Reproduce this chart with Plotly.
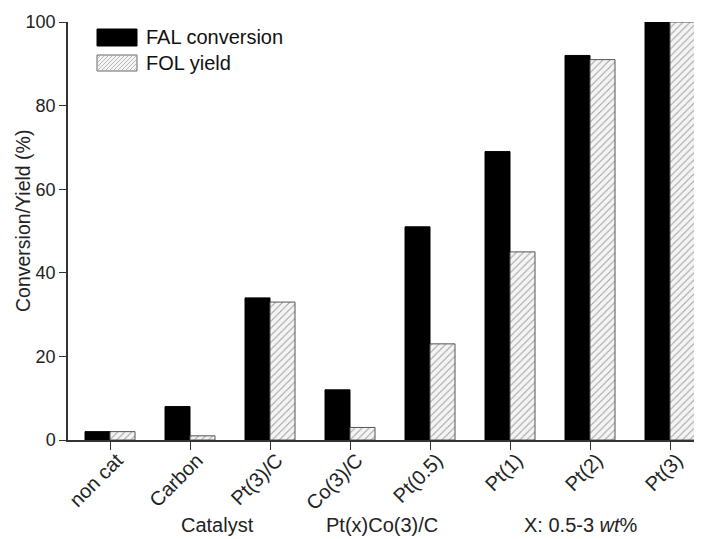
import plotly.graph_objects as go

categories = ["non cat", "Carbon", "Pt(3)/C", "Co(3)/C", "Pt(0.5)", "Pt(1)", "Pt(2)", "Pt(3)"]
fal_conversion = [2, 8, 34, 12, 51, 69, 92, 100]
fol_yield = [2, 1, 33, 3, 23, 45, 91, 100]
y_ticks = [0, 20, 40, 60, 80, 100]
series_names = ["FAL conversion", "FOL yield"]
bottom_labels = ["Catalyst", "Pt(x)Co(3)/C", "X: 0.5-3 <i>wt</i>%"]

FONT = "Liberation Sans, Arial, sans-serif"
TXT = "#222222"

# figure geometry (pixels); page body has an 8px offset
W, H = 702, 539
ML, MT, MB = 60, 14, 107
PW = 634
MR = W - ML - PW
PH = H - MT - MB


def px_x(x):
    return (x - ML) / PW


def px_y(y):
    return (H - MB - y) / PH


fig = go.Figure()
fig.add_trace(go.Bar(
    x=categories, y=fal_conversion, name=series_names[0],
    marker=dict(color="black", line=dict(color="black", width=1)),
))
fig.add_trace(go.Bar(
    x=categories, y=fol_yield, name=series_names[1],
    marker=dict(color="white", line=dict(color="#555555", width=1),
                pattern=dict(shape="/", fgcolor="#a0a0a0", bgcolor="#f4f4f4", size=5, solidity=0.2)),
))

fig.update_layout(
    template="none",
    width=W, height=H,
    margin=dict(l=ML, r=MR, t=MT, b=MB, autoexpand=False),
    paper_bgcolor="white", plot_bgcolor="white",
    barmode="group", bargap=0.375, bargroupgap=0,
    font=dict(family=FONT, size=18, color=TXT),
    showlegend=False,
    xaxis=dict(range=[-0.525, 7.4], showline=True, linecolor="#333333", linewidth=1.5,
               ticks="outside", ticklen=8, tickcolor="#333333", tickangle=-45,
               tickfont=dict(size=20, color=TXT), showgrid=False, zeroline=False,
               automargin=False, ticklabelshift=7, ticklabelstandoff=-9),
    yaxis=dict(range=[0, 100], showline=True, linecolor="#333333", linewidth=1.5,
               ticks="outside", ticklen=7, tickcolor="#333333", tickvals=y_ticks,
               tickfont=dict(size=18, color=TXT), showgrid=False, zeroline=False,
               automargin=False),
)

# y-axis title
fig.add_annotation(x=px_x(15), y=px_y(213), xref="paper", yref="paper",
                   text="Conversion/Yield (%)", textangle=-90, showarrow=False,
                   font=dict(size=19.5, color=TXT), xanchor="center", yanchor="middle")

# bottom labels
for txt, xw in zip(bottom_labels, [217, 382, 581]):
    fig.add_annotation(x=px_x(xw - 8), y=px_y(525 - 8), xref="paper", yref="paper",
                       text=txt, showarrow=False, font=dict(size=20, color=TXT),
                       xanchor="center", yanchor="middle")

# custom legend
shapes = []
bx0, bx1 = 89, 129
r1 = (21, 38)
r2 = (47, 63)
shapes.append(dict(type="rect", xref="paper", yref="paper",
                   x0=px_x(bx0), x1=px_x(bx1), y0=px_y(r1[1]), y1=px_y(r1[0]),
                   fillcolor="black", line=dict(color="black", width=1)))
shapes.append(dict(type="rect", xref="paper", yref="paper",
                   x0=px_x(bx0), x1=px_x(bx1), y0=px_y(r2[1]), y1=px_y(r2[0]),
                   fillcolor="#f4f4f4", line=dict(color="#666666", width=1)))
# hatch lines "/" inside second box
top, bot = r2
h = bot - top
step = 4
k = -h
while k < (bx1 - bx0):
    xa, ya = bx0 + k, bot
    xb, yb = bx0 + k + h, top
    if xa < bx0:
        d = bx0 - xa
        xa, ya = bx0, bot - d
    if xb > bx1:
        d = xb - bx1
        xb, yb = bx1, top + d
    if xb > xa:
        shapes.append(dict(type="line", xref="paper", yref="paper",
                           x0=px_x(xa), y0=px_y(ya), x1=px_x(xb), y1=px_y(yb),
                           line=dict(color="#a8a8a8", width=0.8)))
    k += step
fig.update_layout(shapes=shapes)

for name, yc in zip(series_names, [29, 55]):
    fig.add_annotation(x=px_x(136), y=px_y(yc), xref="paper", yref="paper",
                       text=name, showarrow=False, font=dict(size=20, color="#111111"),
                       xanchor="left", yanchor="middle")

fig.write_html("out.html")
